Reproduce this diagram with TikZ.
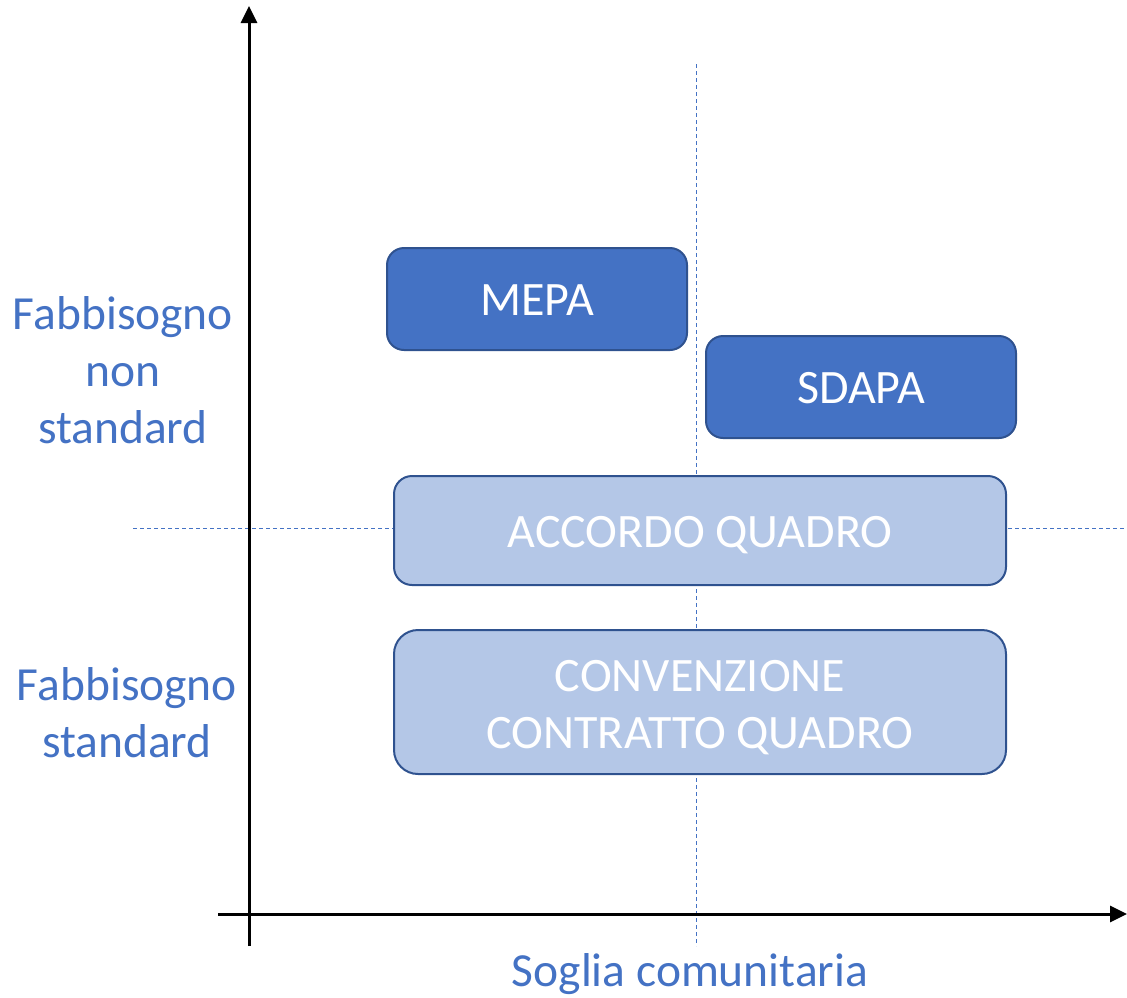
\documentclass[tikz,border=0pt]{standalone}
\usepackage{fontspec}
\setmainfont{Carlito}
\usetikzlibrary{arrows.meta}
\definecolor{accent}{HTML}{4472C4}
\definecolor{edge}{HTML}{2F528F}
\definecolor{light}{HTML}{B4C7E7}
\tikzset{
  axis/.style={line width=3pt, -{Triangle[length=17pt,width=16pt]}},
  guide/.style={accent, line width=1pt, dash pattern=on 4pt off 3pt},
  darkbox/.style={draw=edge, fill=accent, line width=2pt},
  lightbox/.style={draw=edge, fill=light, line width=2pt},
  boxtext/.style={text=white, font=\fontsize{48}{57}\selectfont, align=center},
  lbl/.style={text=accent, font=\fontsize{47.5}{57}\selectfont, align=center}
}
\begin{document}
\begin{tikzpicture}[x=1pt,y=-1pt]
\useasboundingbox (0,0) rectangle (1127,997);
% guides
\coordinate (vg1) at (696,64);
\coordinate (vg2) at (696,946);
\coordinate (hg1) at (133,528);
\coordinate (hg2) at (1127,528);
\draw[guide] (vg1) -- (vg2);
\draw[guide] (hg1) -- (hg2);
% boxes
\draw[darkbox, rounded corners=17pt] (387,248) rectangle (687,350);
\node[boxtext] (mepa) at (537,300) {MEPA};
\draw[darkbox, rounded corners=17pt] (706,336) rectangle (1016,438);
\node[boxtext] (sdapa) at (861,388) {SDAPA};
\draw[lightbox, rounded corners=18pt] (394,476) rectangle (1006,585);
\node[boxtext] (aq) at (700,535) {ACCORDO QUADRO};
\draw[lightbox, rounded corners=24pt] (394,630) rectangle (1006,774);
\node[boxtext] (conv) at (700,708) {CONVENZIONE\\CONTRATTO QUADRO};
% axes
\coordinate (yb) at (249,946);
\coordinate (yt) at (249,6);
\coordinate (xl) at (218,914);
\coordinate (xr) at (1127,914);
\draw[axis] (yb) -- (yt);
\draw[axis] (xl) -- (xr);
% labels
\node[lbl] (ns) at (123,370) {Fabbisogno\\non\\standard};
\node[lbl] (st) at (127,713) {Fabbisogno\\standard};
\node[lbl] (soglia) at (690,974) {Soglia comunitaria};
\end{tikzpicture}
\end{document}
